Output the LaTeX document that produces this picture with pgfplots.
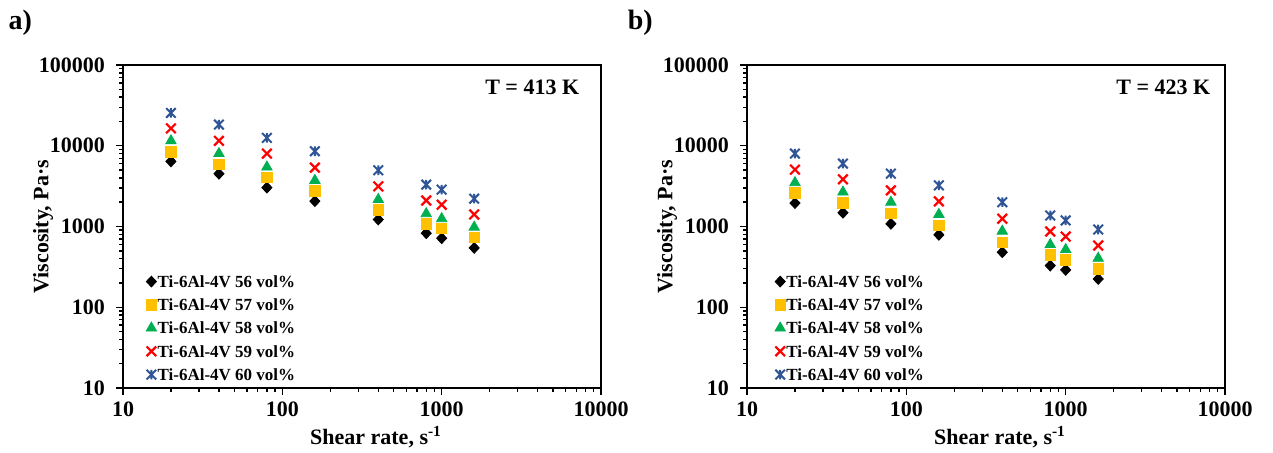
\documentclass[border=0pt]{standalone}
\usepackage{pgfplots}
\pgfplotsset{compat=1.18}
\usepackage{fontspec}
\setmainfont{Liberation Serif}
\definecolor{corg}{RGB}{255,192,0}
\definecolor{cgrn}{RGB}{0,176,80}
\definecolor{cred}{RGB}{255,0,0}
\definecolor{cblu}{RGB}{47,85,151}
\pgfdeclareplotmark{xstar}{%
  \pgfpathmoveto{\pgfpoint{-\pgfplotmarksize}{-\pgfplotmarksize}}%
  \pgfpathlineto{\pgfpoint{\pgfplotmarksize}{\pgfplotmarksize}}%
  \pgfpathmoveto{\pgfpoint{-\pgfplotmarksize}{\pgfplotmarksize}}%
  \pgfpathlineto{\pgfpoint{\pgfplotmarksize}{-\pgfplotmarksize}}%
  \pgfpathmoveto{\pgfpoint{0pt}{-\pgfplotmarksize}}%
  \pgfpathlineto{\pgfpoint{0pt}{\pgfplotmarksize}}%
  \pgfusepathqstroke}
\tikzset{
  s56/.style={mark=diamond*, mark size=2.7pt, draw=black, fill=black, mark options={xscale=1.25}},
  s57/.style={mark=square*, mark size=2.6pt, draw=corg, fill=corg},
  s58/.style={mark=triangle*, mark size=3pt, draw=cgrn, fill=cgrn},
  s59/.style={mark=x, mark size=3.4pt, draw=cred, mark options={line width=1.1pt}},
  s60/.style={mark=xstar, mark size=2.4pt, draw=cblu, mark options={line width=1pt}},
}
\pgfplotsset{
  every axis/.append style={
    scale only axis, width=239pt, height=161.5pt,
    xmin=10, xmax=10000, ymin=10, ymax=100000,
    xtick={10,100,1000,10000}, xticklabels={10,100,1000,10000},
    ytick={10,100,1000,10000,100000}, yticklabels={10,100,1000,10000,100000},
    tick pos=left, tick align=outside, major tick length=3.5pt, minor tick length=2pt,
    axis line style={line width=0.9pt},
    every tick/.style={black, line width=0.7pt},
    ticklabel style={font=\fontsize{11}{13}\selectfont\bfseries},
    yticklabel style={xshift=-2pt},
    clip=false,
    legend cell align=left,
  },
  every axis x label/.style={at={(axis description cs:0.5,0)}, xshift=7pt, yshift=-24.5pt, anchor=center, font=\fontsize{11}{13}\selectfont\bfseries},
  every axis y label/.style={at={(axis description cs:0,0.5)}, xshift=-40pt, rotate=90, anchor=center, font=\fontsize{11}{13}\selectfont\bfseries},
  every axis legend/.style={anchor=south west, draw=none, fill=none, inner sep=0pt,
      font=\fontsize{8.5}{10}\selectfont\bfseries, row sep=5.6pt,
      /tikz/every odd column/.append style={column sep=0.5pt},
      cells={anchor=west}},
}
\begin{document}
\begin{tikzpicture}
\useasboundingbox (-61.5pt,-32.5pt) rectangle (575pt,194pt);
\begin{loglogaxis}[xlabel={Shear rate, s\textsuperscript{-1}}, ylabel={Viscosity, Pa·s},
  legend style={at={(axis cs:13.9,10)}, yshift=3.5pt}]
\addplot[only marks, s56] coordinates {(20,6400) (40,4500) (80,3030) (160,2060) (400,1220) (800,826) (1000,716) (1600,543)};
\addplot[only marks, s57] coordinates {(20,8400) (40,5900) (80,4030) (160,2750) (400,1610) (800,1080) (1000,953) (1600,736)};
\addplot[only marks, s58] coordinates {(20,11500) (40,8000) (80,5450) (160,3720) (400,2160) (800,1440) (1000,1250) (1600,980)};
\addplot[only marks, s59] coordinates {(20,16400) (40,11500) (80,8000) (160,5360) (400,3140) (800,2100) (1000,1860) (1600,1410)};
\addplot[only marks, s60] coordinates {(20,25500) (40,18300) (80,12500) (160,8550) (400,4970) (800,3300) (1000,2860) (1600,2210)};
\legend{Ti-6Al-4V 56 vol\%, Ti-6Al-4V 57 vol\%, Ti-6Al-4V 58 vol\%, Ti-6Al-4V 59 vol\%, Ti-6Al-4V 60 vol\%}
\node[anchor=east, inner sep=0pt, font=\fontsize{11}{13}\selectfont\bfseries] at (rel axis cs:0.955,0.932) {T = 413 K};
\node[anchor=west, inner sep=0pt, font=\fontsize{14}{16}\selectfont\bfseries] at (rel axis cs:-0.24,1.13) {a)};
\end{loglogaxis}
\begin{loglogaxis}[xshift=312pt, xlabel={Shear rate, s\textsuperscript{-1}}, ylabel={Viscosity, Pa·s},
  legend style={at={(axis cs:14.9,10)}, yshift=3.5pt}]
\addplot[only marks, s56] coordinates {(20,1950) (40,1480) (80,1080) (160,789) (400,480) (800,328) (1000,290) (1600,224)};
\addplot[only marks, s57] coordinates {(20,2600) (40,1970) (80,1460) (160,1040) (400,638) (800,445) (1000,386) (1600,298)};
\addplot[only marks, s58] coordinates {(20,3490) (40,2670) (80,2000) (160,1410) (400,875) (800,597) (1000,518) (1600,404)};
\addplot[only marks, s59] coordinates {(20,5060) (40,3840) (80,2800) (160,2050) (400,1250) (800,867) (1000,751) (1600,581)};
\addplot[only marks, s60] coordinates {(20,8000) (40,6010) (80,4520) (160,3230) (400,2000) (800,1370) (1000,1190) (1600,919)};
\legend{Ti-6Al-4V 56 vol\%, Ti-6Al-4V 57 vol\%, Ti-6Al-4V 58 vol\%, Ti-6Al-4V 59 vol\%, Ti-6Al-4V 60 vol\%}
\node[anchor=east, inner sep=0pt, font=\fontsize{11}{13}\selectfont\bfseries] at (rel axis cs:0.97,0.932) {T = 423 K};
\node[anchor=west, inner sep=0pt, font=\fontsize{14}{16}\selectfont\bfseries] at (rel axis cs:-0.25,1.13) {b)};
\end{loglogaxis}
\end{tikzpicture}
\end{document}
